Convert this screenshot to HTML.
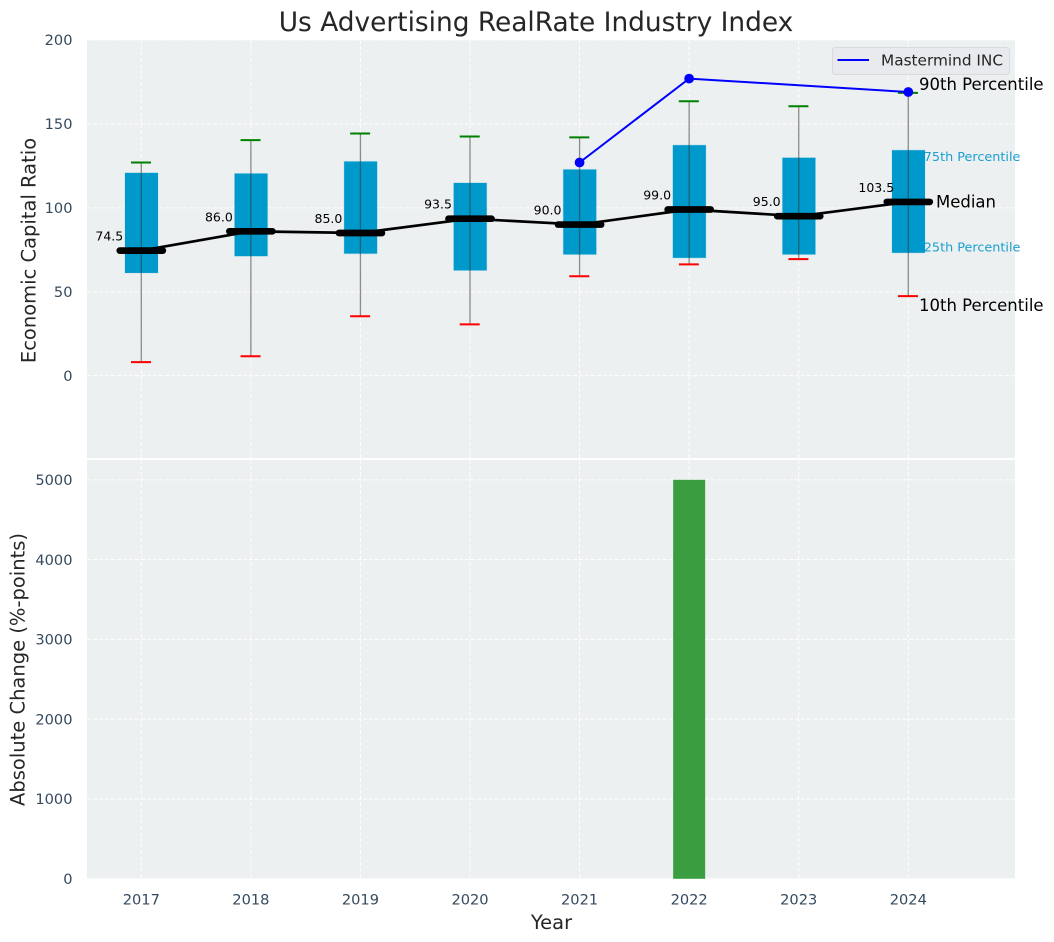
<!DOCTYPE html>
<html lang="en">
<head>
<meta charset="utf-8">
<title>Us Advertising RealRate Industry Index</title>
<style>
html,body{margin:0;padding:0;background:#fff;width:1054px;height:942px;overflow:hidden}
svg{display:block}
text{font-family:"DejaVu Sans","Liberation Sans",sans-serif}
</style>
</head>
<body>
<svg id="chart" xmlns="http://www.w3.org/2000/svg" width="1054" height="942" viewBox="0 0 1054 942">
  <rect x="87" y="40" width="928" height="418" fill="#ecf0f1"/>
  <rect x="87" y="460" width="928" height="418.5" fill="#ecf0f1"/>
  <g id="grid"></g>
  <g id="bars"></g>
  <g id="boxes"></g>
  <g id="median"></g>
  <g id="company"></g>
  <g id="annotations"></g>
  <g id="ticks"></g>
  <text x="536" y="31" text-anchor="middle" font-size="26.4" fill="#262626">Us Advertising RealRate Industry Index</text>
  <text transform="translate(35.5 250.5) rotate(-90)" text-anchor="middle" font-size="19.5" fill="#262626">Economic Capital Ratio</text>
  <text transform="translate(24.5 669.5) rotate(-90)" text-anchor="middle" font-size="19.5" fill="#262626">Absolute Change (%-points)</text>
  <text x="551.5" y="929" text-anchor="middle" font-size="19.5" fill="#262626">Year</text>
  <g>
    <rect x="832.5" y="47.5" width="177" height="27" rx="3" fill="#e8eaee" stroke="#d8dadd" stroke-width="1"/>
    <line x1="837.5" y1="60" x2="869" y2="60" stroke="#0000ff" stroke-width="2"/>
    <text x="881" y="65.5" font-size="15.3" fill="#262626">Mastermind INC</text>
  </g>
</svg>
<script>
var years = [2017, 2018, 2019, 2020, 2021, 2022, 2023, 2024];
var p90 = [127, 140.3, 144.3, 142.5, 142, 163.5, 160.5, 168.5];
var p75 = [121, 120.6, 127.8, 115, 123, 137.5, 130, 134.5];
var medians = [74.5, 86, 85, 93.5, 90, 99, 95, 103.5];
var p25 = [61, 71, 72.5, 62.5, 72, 70, 72, 73];
var p10 = [8, 11.5, 35.4, 30.5, 59.2, 66.3, 69.4, 47.4];
var mastermind = [null, null, null, null, 127, 177, null, 169];
var absoluteChange = [0, 0, 0, 0, 0, 5000, 0, 0];
var topTicks = [0, 50, 100, 150, 200];
var bottomTicks = [0, 1000, 2000, 3000, 4000, 5000];

var NS = 'http://www.w3.org/2000/svg';
function xScale(year) { return 141.3 + (year - 2017) * 109.57; }
function yTop(v) { return 375.6 - v * 1.678; }
function yBottom(v) { return 878.8 - v * 0.0798; }
function make(tag, attrs, parent, content) {
  var node = document.createElementNS(NS, tag);
  for (var k in attrs) node.setAttribute(k, attrs[k]);
  if (content !== undefined) node.textContent = content;
  parent.appendChild(node);
  return node;
}
var gridG = document.getElementById('grid');
var barsG = document.getElementById('bars');
var boxesG = document.getElementById('boxes');
var medianG = document.getElementById('median');
var companyG = document.getElementById('company');
var annG = document.getElementById('annotations');
var ticksG = document.getElementById('ticks');
var gridStyle = {stroke: '#ffffff', 'stroke-width': 1, 'stroke-dasharray': '4 2', fill: 'none', opacity: 0.9};
function gridLine(x1, y1, x2, y2) {
  var a = {x1: x1, y1: y1, x2: x2, y2: y2};
  for (var k in gridStyle) a[k] = gridStyle[k];
  return make('line', a, gridG);
}

topTicks.forEach(function (t) {
  var y = yTop(t);
  var g = gridLine(87, y, 1015, y);
  
  
  var lab = make('text', {x: 72.5, y: y + 5.2, 'text-anchor': 'end', 'font-size': 14.6, fill: '#34495e'}, ticksG, String(t));
  
  
});
bottomTicks.forEach(function (t) {
  var y = yBottom(t);
  var g = gridLine(87, y, 1015, y);
  
  
  var lab = make('text', {x: 72.5, y: y + 5.2, 'text-anchor': 'end', 'font-size': 14.6, fill: '#34495e'}, ticksG, String(t));
  
  
});

years.forEach(function (yr, i) {
  var x = xScale(yr);
  var v1 = gridLine(x, 40, x, 458);
  
  
  var v2 = gridLine(x, 460, x, 878.5);
  
  

  var xl = make('text', {x: x, y: 904.3, 'text-anchor': 'middle', 'font-size': 14.6, fill: '#34495e'}, ticksG, String(yr));
  
  

  var barTop = yBottom(absoluteChange[i]);
  var bar = make('rect', {x: x - 16, y: barTop, width: 32, height: yBottom(0) - barTop, fill: '#3a9d3f'}, barsG);
  
  

  var by = yTop(p75[i]);
  var box = make('rect', {x: x - 16.6, y: by, width: 33.6, height: yTop(p25[i]) - by, fill: '#0099cc', stroke: '#cfe6ee', 'stroke-width': 0.6}, boxesG);
  
  

  var w = make('line', {x1: x, y1: yTop(p90[i]), x2: x, y2: yTop(p10[i]), stroke: '#333333', 'stroke-opacity': 0.55, 'stroke-width': 1.3}, boxesG);
  
  

  var capHi = make('line', {x1: x - 10.3, y1: yTop(p90[i]), x2: x + 9.7, y2: yTop(p90[i]), stroke: '#008000', 'stroke-width': 2}, boxesG);
  
  

  var capLo = make('line', {x1: x - 10.3, y1: yTop(p10[i]), x2: x + 9.7, y2: yTop(p10[i]), stroke: '#ff0000', 'stroke-width': 2}, boxesG);
  
  
});

var medianPts = years.map(function (yr, i) { return xScale(yr) + ',' + yTop(medians[i]); }).join(' ');
var medianLine = make('polyline', {points: medianPts, fill: 'none', stroke: '#000000', 'stroke-width': 2.7}, medianG);


years.forEach(function (yr, i) {
  var x = xScale(yr), y = yTop(medians[i]);
  var seg = make('line', {x1: x - 21.5, y1: y, x2: x + 21.5, y2: y, stroke: '#000000', 'stroke-width': 6.7, 'stroke-linecap': 'round'}, medianG);
  
  
  var lab = make('text', {x: x - 32, y: y - 10, 'text-anchor': 'middle', 'font-size': 12.5, fill: '#000000'}, medianG, medians[i].toFixed(1));
  
  
});

var companyPts = [];
years.forEach(function (yr, i) {
  if (mastermind[i] !== null) companyPts.push(xScale(yr) + ',' + yTop(mastermind[i]));
});
var companyLine = make('polyline', {points: companyPts.join(' '), fill: 'none', stroke: '#0000ff', 'stroke-width': 2}, companyG);


years.forEach(function (yr, i) {
  if (mastermind[i] === null) return;
  var dot = make('circle', {cx: xScale(yr), cy: yTop(mastermind[i]), r: 4.9, fill: '#0000ff'}, companyG);
  
  
});

var last = years.length - 1;
var lx = xScale(years[last]);
var a90 = make('text', {x: lx + 10.7, y: yTop(p90[last]) - 2.7, 'font-size': 16.5, fill: '#000000'}, annG, '90th Percentile');


var a75 = make('text', {x: lx + 15.5, y: yTop(p75[last]) + 11, 'font-size': 12.8, fill: '#1a9fd0'}, annG, '75th Percentile');


var aMed = make('text', {x: lx + 27.7, y: yTop(medians[last]) + 5.5, 'font-size': 16.5, fill: '#000000'}, annG, 'Median');


var a25 = make('text', {x: lx + 15.5, y: yTop(p25[last]) - 1.7, 'font-size': 12.8, fill: '#1a9fd0'}, annG, '25th Percentile');


var a10 = make('text', {x: lx + 10.7, y: yTop(p10[last]) + 15, 'font-size': 16.5, fill: '#000000'}, annG, '10th Percentile');


</script>
</body>
</html>
